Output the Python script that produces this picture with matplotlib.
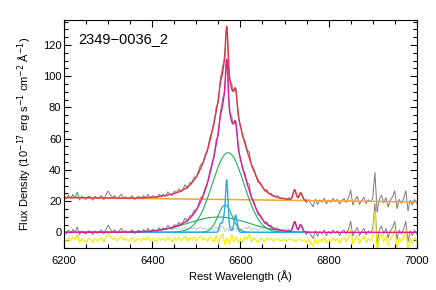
import numpy as np
import matplotlib.pyplot as plt
from matplotlib.ticker import MultipleLocator

plt.rcParams['font.family'] = ['Liberation Sans', 'DejaVu Sans']

object_name = '2349\u22120036_2'

# continuum, linear between the window ends
cont_wave = [6200, 7000]
cont_flux = [22.3, 19.5]

# broad Halpha components (green): centre, peak, sigma
broad_center = [6572, 6565, 6550]
broad_peak = [51.0, 17.5, 9.8]
broad_sigma = [36, 16, 68]

# narrow lines (cyan): [NII]6548, Ha core, Ha base, [NII]6583
narrow_center = [6554, 6569, 6566, 6589]
narrow_peak = [4.0, 23.0, 12.0, 11.0]
narrow_sigma = [2.5, 2.5, 6.0, 3.5]

# [SII] doublet
sii_center = [6723, 6737]
sii_peak = [6.5, 4.5]
sii_sigma = [3.5, 3.5]

# data - model residual, every 5 A from 6200 to 7000
resid = [0.5, -1.0, 1.5, -0.5, 2.0, 0.0, 3.5, -1.5, 1.0, -0.5,
         -1.0, 1.0, 0.5, -1.5, 1.0, -0.5, 0.5, 1.5, -1.0, 2.0,
         4.5, 2.0, 0.5, 1.5, -0.5, 1.0, 2.5, 0.0, 1.0, -0.5,
         0.5, 1.5, -1.0, 0.5, 1.0, -0.5, 1.5, 0.0, 2.0, -0.5,
         1.0, 0.5, -1.0, 1.5, 0.0, 1.0, -0.5, 2.0, 0.5, -1.0,
         1.5, 0.0, 2.0, -0.5, 1.0, 2.5, -1.0, 1.5, 0.5, 2.0,
         -0.5, 1.5, 2.5, 0.0, 1.5, -1.0, 2.0, 1.0, -1.5, 3.0,
         -2.0, 2.5, 4.0, -3.0, 1.5, -2.5, 3.5, -1.0, 2.0, -1.5,
         1.0, -1.5, 2.0, 0.5, 4.0, -1.0, 1.5, 0.0, -1.5, 1.0,
         0.5, -1.0, 1.5, 0.0, 1.0, -0.5, 0.5, 1.0, -0.5, 0.0,
         0.5, -0.5, 1.0, 0.0, 0.5, -1.0, 0.5, 1.0, -0.5, 0.0,
         -1.5, 0.5, -2.0, -4.0, 1.0, -2.5, 0.5, -1.0, 1.5, -2.0,
         0.5, -1.0, 1.5, -0.5, 1.0, -2.0, 0.5, 1.5, -1.0, 2.0,
         7.0, -2.5, 1.0, 3.0, -2.0, 0.5, 2.5, -1.5, 1.0, -0.5,
         2.0, 18.5, -7.0, 1.5, 4.0, -1.0, 2.5, -3.5, 1.0, 3.0,
         7.0, -4.5, 1.5, -1.0, 2.0, 7.0, -6.0, 1.0, -2.0, 1.5,
         -1.0]
resid_wave = np.linspace(6200, 7000, len(resid))


def gauss(x, c, a, s):
    return a * np.exp(-0.5 * ((x - c) / s) ** 2)


wave = np.arange(6200, 7000.1, 0.5)
fitwin = wave <= 6750
cont = np.interp(wave, cont_wave, cont_flux)

broad = [gauss(wave, c, a, s) for c, a, s in zip(broad_center, broad_peak, broad_sigma)]
narrow = sum(gauss(wave, c, a, s) for c, a, s in zip(narrow_center, narrow_peak, narrow_sigma))
sii = sum(gauss(wave, c, a, s) for c, a, s in zip(sii_center, sii_peak, sii_sigma))
lines = sum(broad) + narrow + sii

# spectrum sampled at 2.5 A
dwave = np.arange(6200, 7000.1, 2.5)
dlines = np.interp(dwave, wave, lines)
dres = np.interp(dwave, resid_wave, resid)
dcont = np.interp(dwave, cont_wave, cont_flux)
spec = dcont + dlines + dres
spec_sub = dlines + dres
near = (dwave >= 6440) & (dwave <= 6710)

fig = plt.figure(figsize=(4.36, 2.90), dpi=100)
ax = fig.add_axes([0.147, 0.145, 0.809, 0.786])

ax.plot(dwave, spec, color='#7a7a7a', lw=0.7)
ax.plot(dwave, spec_sub, color='#7a7a7a', lw=0.7)
ax.plot(dwave[near], dres[near] * 0.5 + 2, color='#c8c8c8', lw=0.7)
ax.plot(dwave, dres - 5, color='#f2f000', lw=0.9)

ax.plot(wave, cont, color='#f7a531', lw=1.1)
for b in broad:
    ax.plot(wave[fitwin], b[fitwin], color='#1fae5a', lw=0.8)
ax.plot(wave[fitwin], narrow[fitwin], color='#2aa8e0', lw=1.0)
ax.plot(wave, lines, color='#e0189a', lw=1.0)
ax.plot(wave[fitwin], (cont + lines)[fitwin], color='#e8303f', lw=1.0)

ax.set_xlim(6200, 7000)
ax.set_ylim(-10, 136)
ax.set_xticks([6200, 6400, 6600, 6800, 7000])
ax.set_yticks([0, 20, 40, 60, 80, 100, 120])
ax.xaxis.set_minor_locator(MultipleLocator(50))
ax.yaxis.set_minor_locator(MultipleLocator(5))
ax.tick_params(which='both', direction='in', top=True, right=True, width=0.8, labelsize=8)
ax.tick_params(which='major', length=5)
ax.tick_params(which='minor', length=3)
ax.tick_params(axis='x', pad=6)
ax.tick_params(axis='y', pad=2)
for sp in ax.spines.values():
    sp.set_linewidth(0.8)

ax.set_xlabel('Rest Wavelength (\u00c5)', fontsize=8, labelpad=3)
ax.set_ylabel('Flux Density (10$^{-17}$ erg s$^{-1}$ cm$^{-2}$ \u00c5$^{-1}$)',
              fontsize=8, labelpad=6)
ax.text(0.04, 0.947, object_name, transform=ax.transAxes, va='top', ha='left', fontsize=10.5)

fig.savefig('out.png', dpi=100)
